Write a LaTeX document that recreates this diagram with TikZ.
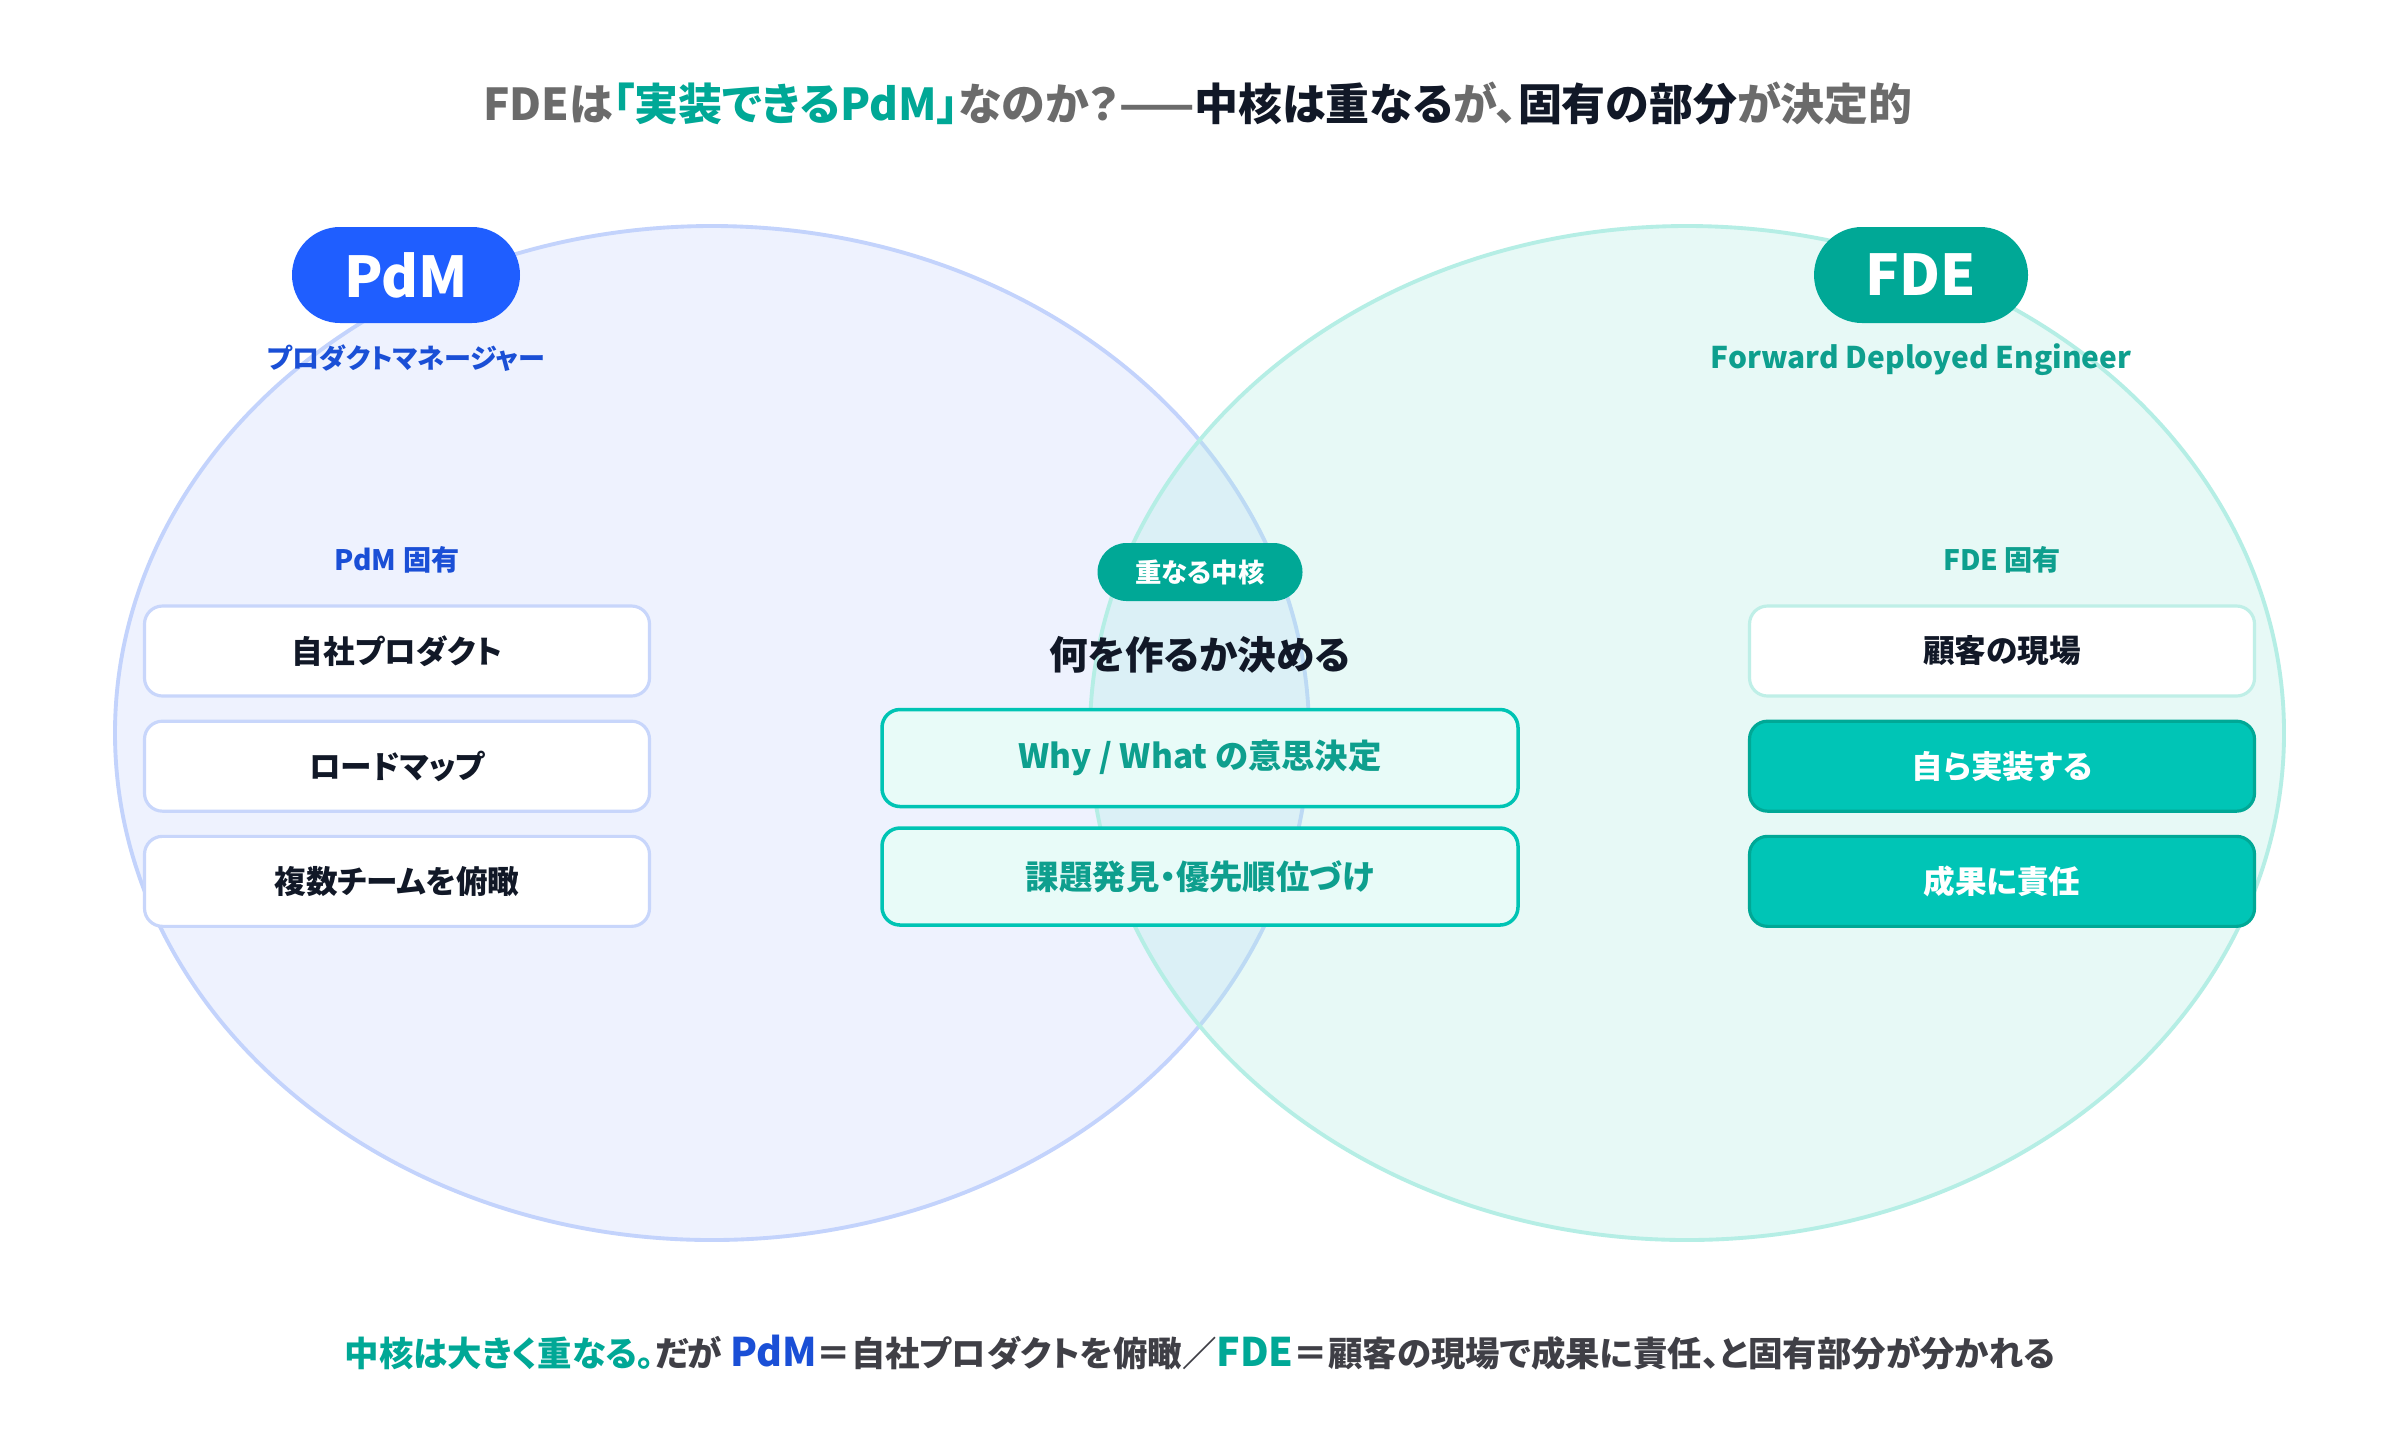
\documentclass[tikz,border=0pt]{standalone}
\usepackage{fontspec}
\setmainfont{Noto Sans CJK JP}[RawFeature=+palt]
\newfontfamily\heavyfont{Noto Sans CJK JP Black}[RawFeature=+palt]
\usetikzlibrary{positioning,shapes.geometric}
\definecolor{ink}{HTML}{111827}
\definecolor{greytext}{HTML}{6B6B6B}
\definecolor{notegrey}{HTML}{3F3F46}
\definecolor{pdmblue}{HTML}{1F5EFF}
\definecolor{pdmtext}{HTML}{1A4FD6}
\definecolor{pdmfill}{HTML}{C7D6FC}
\definecolor{pdmline}{HTML}{C3D3FC}
\definecolor{pdmbox}{HTML}{C8D6FB}
\definecolor{fdeteal}{HTML}{00A896}
\definecolor{fdetext}{HTML}{0E9F8E}
\definecolor{fdefill}{HTML}{B0EDE4}
\definecolor{fdeline}{HTML}{B5EEE5}
\definecolor{fdebox}{HTML}{BFEFE7}
\definecolor{fdesolid}{HTML}{00C5B6}
\definecolor{corefill}{HTML}{E8FBF8}
\definecolor{coreline}{HTML}{00C4B4}
\tikzset{
    every picture/.style={line cap=round,line join=round},
    venn/.style={ellipse,minimum width=119.4mm,minimum height=101.4mm,inner sep=0pt,
      line width=1.1pt,fill opacity=0.3,draw opacity=1},
    tagpill/.style={rounded corners=4.8mm,minimum height=9.6mm,inner sep=0pt,
      text=white,font=\heavyfont\fontsize{16}{18}\selectfont},
    subtitle/.style={inner sep=0pt,font=\bfseries\fontsize{8.5}{10}\selectfont},
    grouplabel/.style={inner sep=0pt,font=\bfseries\fontsize{8}{10}\selectfont},
    itembox/.style={rounded corners=1.8mm,minimum width=50.5mm,minimum height=9.0mm,
      line width=0.9pt,inner sep=0pt,text=ink,font=\bfseries\fontsize{9}{11}\selectfont},
    corebox/.style={itembox,minimum width=63.6mm,minimum height=9.7mm,fill=corefill,
      draw=coreline,line width=1pt,text=fdetext,font=\bfseries\fontsize{9.5}{11}\selectfont},
    corepill/.style={rounded corners=2.9mm,minimum width=20.5mm,minimum height=5.8mm,
      inner sep=0pt,fill=fdeteal,text=white,font=\bfseries\fontsize{7.5}{9}\selectfont},
    coretitle/.style={inner sep=0pt,text=ink,font=\heavyfont\fontsize{11}{13}\selectfont},
    headline/.style={inner sep=0pt,text=greytext,font=\heavyfont\fontsize{12.5}{14}\selectfont},
    footline/.style={inner sep=0pt,text=notegrey,font=\bfseries\fontsize{9.8}{12}\selectfont}
}
\begin{document}
\begin{tikzpicture}
    \useasboundingbox[fill=white] (0,0) rectangle (24,-14.4);
    % the two sets
    \node[venn,fill=pdmfill,draw=pdmline] (pdmset) at (7.12,-7.33) {};
    \node[venn,fill=fdefill,draw=fdeline] (fdeset) at (16.87,-7.33) {};
    % headline
    \node[headline] (title) at (11.98,-1.03)
      {FDEは\textcolor{fdeteal}{「実装できるPdM」}なのか？——\textcolor{ink}{中核は重なる}が、\textcolor{ink}{固有の部分}が決定的};
    % set tags
    \node[tagpill,fill=pdmblue,minimum width=22.8mm] (pdmtag) at (4.06,-2.75) {PdM};
    \node[subtitle,text=pdmtext,font=\bfseries\fontsize{7.7}{9}\selectfont] (pdmname) at (4.06,-3.58) {プロダクトマネージャー};
    \node[tagpill,fill=fdeteal,minimum width=21.4mm] (fdetag) at (19.21,-2.75) {FDE};
    \node[subtitle,text=fdetext] (fdename) at (19.21,-3.60) {Forward Deployed Engineer};
    % PdM only
    \node[grouplabel,text=pdmtext] (pdmown) at (3.97,-5.60) {PdM 固有};
    \node[itembox,fill=white,draw=pdmbox] (product) at (3.97,-6.51) {自社プロダクト};
    \node[itembox,fill=white,draw=pdmbox,below=2.2mm of product] (roadmap) {ロードマップ};
    \node[itembox,fill=white,draw=pdmbox,below=2.2mm of roadmap] (overview) {複数チームを俯瞰};
    % shared core
    \node[corepill] (coretag) at (12.00,-5.72) {重なる中核};
    \node[coretitle] (decide) at (12.00,-6.55) {何を作るか決める};
    \node[corebox] (whywhat) at (12.00,-7.58) {Why / What の意思決定};
    \node[corebox,below=1.8mm of whywhat] (priority) {課題発見・優先順位づけ};
    % FDE only
    \node[grouplabel,text=fdetext] (fdeown) at (20.02,-5.60) {FDE 固有};
    \node[itembox,fill=white,draw=fdebox] (field) at (20.02,-6.51) {顧客の現場};
    \node[itembox,fill=fdesolid,draw=fdeteal,text=white,below=2.2mm of field] (build) {自ら実装する};
    \node[itembox,fill=fdesolid,draw=fdeteal,text=white,below=2.2mm of build] (result) {成果に責任};
    % footnote
    \node[footline] (note) at (12.00,-13.53)
      {\textcolor{fdeteal}{中核は大きく重なる。}だが {\fontsize{11.2}{12}\selectfont\textcolor{pdmtext}{PdM}}＝自社プロダクトを俯瞰／{\fontsize{11.2}{12}\selectfont\textcolor{fdeteal}{FDE}}＝顧客の現場で成果に責任、と固有部分が分かれる};
\end{tikzpicture}
\end{document}
